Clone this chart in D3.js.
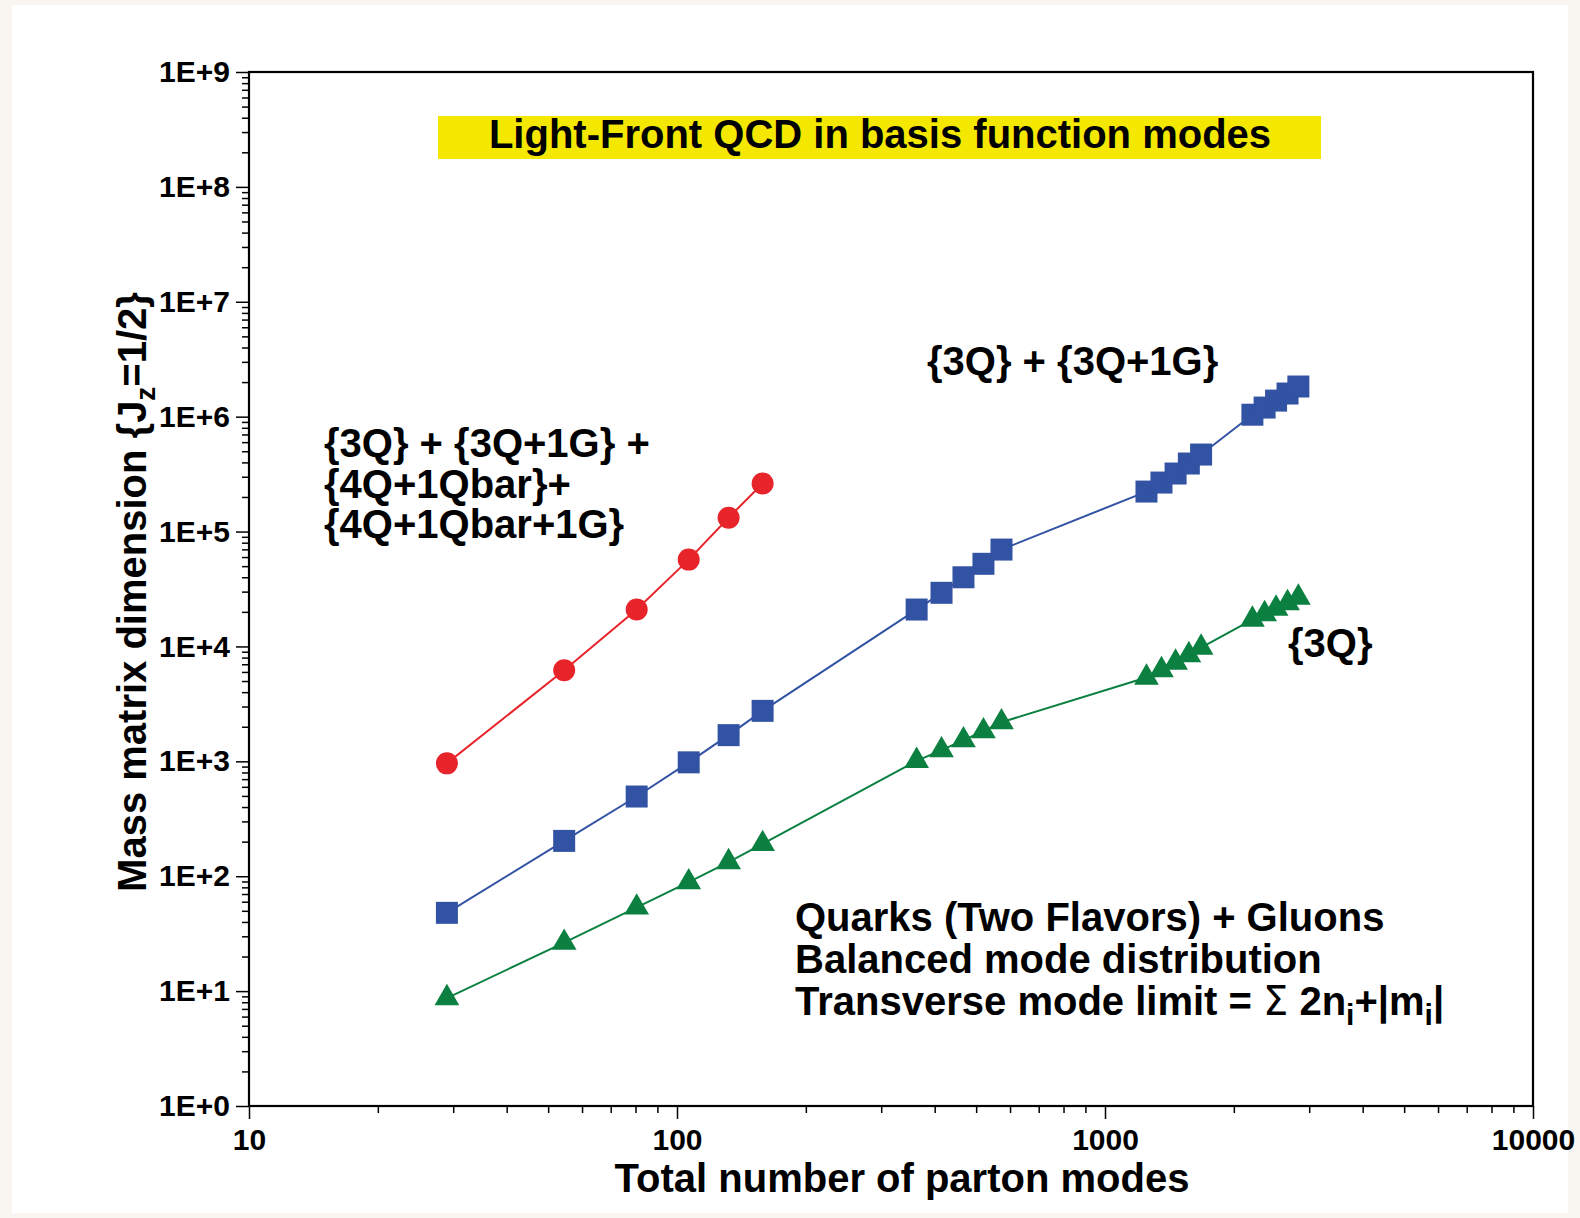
<!DOCTYPE html>
<html lang="en">
<head>
<meta charset="UTF-8">
<title>Light-Front QCD in basis function modes</title>
<script src="https://d3js.org/d3.v7.min.js"></script>
<style>
  html, body { margin: 0; padding: 0; background: #f9f5f1; }
  svg { display: block; }
  text { font-family: "Liberation Sans", Arial, sans-serif; font-weight: bold; fill: #000; }
</style>
</head>
<body>
<div id="chart"></div>
<script>
// --- data ---
var redModes = [29, 54.5, 80.5, 106.5, 132, 158.5];
var redDims = [960, 6200, 21000, 57000, 132000, 262000];

var modes = [29, 54.5, 80.5, 106.5, 132, 158.5,
             363, 415, 467, 520, 573,
             1250, 1355, 1462, 1570, 1677,
             2210, 2360, 2510, 2670, 2830];
var blueDims = [48, 203, 494, 980, 1690, 2750,
                20950, 29300, 40000, 52400, 69700,
                222900, 267000, 320000, 391000, 468000,
                1.04e6, 1.2e6, 1.38e6, 1.59e6, 1.83e6];
var greenDims = [8.7, 26.4, 53.5, 88.7, 132.7, 191,
                 1010, 1250, 1527, 1829, 2190,
                 5360, 6230, 7240, 8410, 9780,
                 17140, 19140, 21380, 23870, 26650];

var xTicks = [10, 100, 1000, 10000];
var yTicks = [1, 10, 100, 1e3, 1e4, 1e5, 1e6, 1e7, 1e8, 1e9];

var W = 1580, H = 1218;
var plot = { left: 249, right: 1533, top: 72, bottom: 1106 };

var svg = d3.select("#chart").append("svg")
    .attr("width", W).attr("height", H);

// white panel
svg.append("rect")
    .attr("x", 12).attr("y", 5)
    .attr("width", 1556).attr("height", 1208)
    .attr("fill", "#fff");

var x = d3.scaleLog().domain([10, 10000]).range([plot.left, plot.right]);
var y = d3.scaleLog().domain([1, 1e9]).range([plot.bottom, plot.top]);

// minor ticks
var xMinor = [], yMinor = [];
[10, 100, 1000].forEach(function(d) { for (var k = 2; k <= 9; k++) xMinor.push(d * k); });
yTicks.slice(0, -1).forEach(function(d) { for (var k = 2; k <= 9; k++) yMinor.push(d * k); });

function styleAxis(g) {
  g.select(".domain").remove();
  g.selectAll(".tick line").attr("stroke", "#000").attr("stroke-width", 1.5);
  g.selectAll(".tick text")
    .attr("font-family", "Liberation Sans, Arial, sans-serif")
    .attr("font-weight", "bold")
    .attr("font-size", 30)
    .attr("fill", "#000");
}

svg.append("g")
    .attr("transform", "translate(0," + plot.bottom + ")")
    .call(d3.axisBottom(x).tickValues(xMinor).tickSize(7).tickFormat(""))
    .call(styleAxis);
svg.append("g")
    .attr("transform", "translate(0," + plot.bottom + ")")
    .call(d3.axisBottom(x).tickValues(xTicks).tickSize(13).tickPadding(10)
      .tickFormat(function(d) { return String(d); }))
    .call(styleAxis);

svg.append("g")
    .attr("transform", "translate(" + plot.left + ",0)")
    .call(d3.axisLeft(y).tickValues(yMinor).tickSize(7).tickFormat(""))
    .call(styleAxis);
svg.append("g")
    .attr("transform", "translate(" + plot.left + ",0)")
    .call(d3.axisLeft(y).tickValues(yTicks).tickSize(13).tickPadding(6)
      .tickFormat(function(d) { return "1E+" + Math.round(Math.log10(d)); }))
    .call(styleAxis);

// frame
svg.append("rect")
    .attr("x", plot.left).attr("y", plot.top)
    .attr("width", plot.right - plot.left).attr("height", plot.bottom - plot.top)
    .attr("fill", "none").attr("stroke", "#000").attr("stroke-width", 2.2);

// series
var series = [
  { xs: modes, ys: greenDims, color: "#0b8040", shape: "tri" },
  { xs: modes, ys: blueDims, color: "#3252a3", shape: "sq" },
  { xs: redModes, ys: redDims, color: "#e8242b", shape: "circ" }
];

var line = d3.line()
    .x(function(d) { return x(d[0]); })
    .y(function(d) { return y(d[1]); });

series.forEach(function(s) {
  var pts = d3.zip(s.xs, s.ys);
  svg.append("path")
      .datum(pts)
      .attr("fill", "none")
      .attr("stroke", s.color)
      .attr("stroke-width", 2)
      .attr("d", line);

  var marks = svg.append("g").selectAll("path.mark")
      .data(pts)
      .enter().append("path")
      .attr("class", "mark")
      .attr("fill", s.color)
      .attr("transform", function(d) { return "translate(" + x(d[0]) + "," + y(d[1]) + ")"; });

  if (s.shape == "circ") marks.attr("d", d3.symbol().type(d3.symbolCircle).size(Math.PI * 11 * 11)());
  if (s.shape == "sq") marks.attr("d", d3.symbol().type(d3.symbolSquare).size(22 * 22)());
  if (s.shape == "tri") marks.attr("d", d3.symbol().type(d3.symbolTriangle).size(265)());
});

// title box
svg.append("rect")
    .attr("x", 438).attr("y", 116)
    .attr("width", 883).attr("height", 43)
    .attr("fill", "#f5e800");
svg.append("text")
    .attr("x", 880).attr("y", 148)
    .attr("text-anchor", "middle")
    .attr("font-size", 40)
    .text("Light-Front QCD in basis function modes");

// axis titles
svg.append("text")
    .attr("x", 902).attr("y", 1192)
    .attr("text-anchor", "middle")
    .attr("font-size", 40)
    .text("Total number of parton modes");

var yt = svg.append("text")
    .attr("transform", "translate(146,592) rotate(-90)")
    .attr("text-anchor", "middle")
    .attr("font-size", 40);
yt.append("tspan").text("Mass matrix dimension {J");
yt.append("tspan").attr("font-size", 28).attr("dy", 9).text("z");
yt.append("tspan").attr("dy", -9).text("=1/2}");

// annotations
var redLabel = ["{3Q} + {3Q+1G} +", "{4Q+1Qbar}+", "{4Q+1Qbar+1G}"];
redLabel.forEach(function(t, i) {
  svg.append("text")
      .attr("x", 324).attr("y", 457 + i * 40.5)
      .attr("font-size", 40)
      .text(t);
});

svg.append("text")
    .attr("x", 927).attr("y", 375)
    .attr("font-size", 40)
    .text("{3Q} + {3Q+1G}");

svg.append("text")
    .attr("x", 1288).attr("y", 657)
    .attr("font-size", 40)
    .text("{3Q}");

var notes = ["Quarks (Two Flavors) + Gluons", "Balanced mode distribution"];
notes.forEach(function(t, i) {
  svg.append("text")
      .attr("x", 795).attr("y", 931 + i * 42)
      .attr("font-size", 40)
      .text(t);
});
var lim = svg.append("text")
    .attr("x", 795).attr("y", 1015)
    .attr("font-size", 40);
lim.append("tspan").text("Transverse mode limit = ");
lim.append("tspan").attr("font-family", "DejaVu Sans").attr("font-weight", "normal").attr("font-size", 40).text("\u03A3");
lim.append("tspan").text(" 2n");
lim.append("tspan").attr("font-size", 30).attr("dy", 10).text("i");
lim.append("tspan").attr("dy", -10).text("+|m");
lim.append("tspan").attr("font-size", 30).attr("dy", 10).text("i");
lim.append("tspan").attr("dy", -10).text("|");
</script>
</body>
</html>
